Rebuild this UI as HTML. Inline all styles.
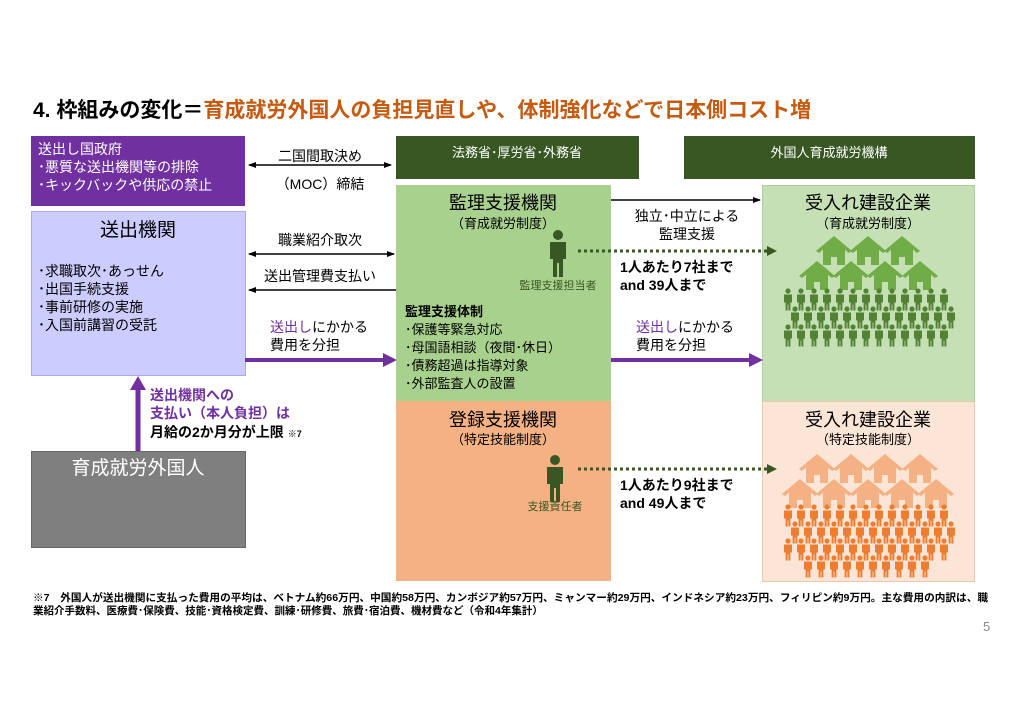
<!DOCTYPE html>
<html><head><meta charset="utf-8"><style>
body{margin:0;background:#fff;width:1024px;height:724px;overflow:hidden}
svg{display:block;font-family:"Liberation Sans","Noto Sans CJK JP",sans-serif}
</style></head><body>
<svg id="s" width="1024" height="724" viewBox="0 0 1024 724" xmlns="http://www.w3.org/2000/svg">
<defs>
<marker id="a" markerWidth="8" markerHeight="8" refX="7" refY="4" orient="auto-start-reverse" markerUnits="userSpaceOnUse"><path d="M0,1 L8,4 L0,7z" fill="#000"/></marker>
<marker id="ag" markerWidth="10" markerHeight="10" refX="9" refY="5" orient="auto" markerUnits="userSpaceOnUse"><path d="M0,0 L10,5 L0,10z" fill="#385723"/></marker>
<g id="p"><circle cx="0" cy="-7" r="2.6"/><path d="M-4,-3.5 h8 v8 h-1.6 v8 h-2 v-6 h-0.8 v6 h-2 v-8 h-1.6z"/></g>
<g id="pb"><circle cx="0" cy="-15" r="5"/><path d="M-8,-8 h16 v17 h-3 v18 h-4 v-14 h-2 v14 h-4 v-18 h-3z"/></g>
<g id="h"><path d="M-18,-1 L0,-16 L18,-1 L15,1 L0,-11 L-15,1z"/><path d="M-11,-3 L0,-12 L11,-3 V13 H3 V5 H-3 V13 H-11z"/></g>
</defs>
<text x="33" y="117" font-size="21" font-weight="bold" fill="#000">4. 枠組みの変化＝<tspan fill="#c55a11">育成就労外国人の負担見直しや、体制強化などで日本側コスト増</tspan></text>

<rect x="31" y="136" width="214" height="70" fill="#7030a0"/>
<text fill="#fff" font-size="14"><tspan x="38" y="154">送出し国政府</tspan><tspan x="38" y="172">･悪質な送出機関等の排除</tspan><tspan x="38" y="190">･キックバックや供応の禁止</tspan></text>

<rect x="31.5" y="211.5" width="214" height="164" fill="#ccccff" stroke="#aaaaee"/>
<text x="138" y="236" font-size="19" text-anchor="middle">送出機関</text>
<text font-size="14"><tspan x="38" y="276">･求職取次･あっせん</tspan><tspan x="38" y="294">･出国手続支援</tspan><tspan x="38" y="312">･事前研修の実施</tspan><tspan x="38" y="330">･入国前講習の受託</tspan></text>

<rect x="31.5" y="451.5" width="214" height="96" fill="#7f7f7f" stroke="#666"/>
<text x="138" y="474" font-size="19" text-anchor="middle" fill="#fff">育成就労外国人</text>

<line x1="138" y1="451" x2="138" y2="388" stroke="#7030a0" stroke-width="5"/>
<path d="M130,390 L138,376 L146,390z" fill="#7030a0"/>
<text font-size="14" font-weight="bold"><tspan x="150" y="400" fill="#7030a0">送出機関への</tspan><tspan x="150" y="418" fill="#7030a0">支払い（本人負担）は</tspan><tspan x="150" y="437">月給の2か月分が上限 <tspan font-size="9">※7</tspan></tspan></text>

<text x="320" y="161" font-size="14" text-anchor="middle">二国間取決め</text>
<line x1="249" y1="165" x2="391" y2="165" stroke="#000" stroke-width="1.5" marker-start="url(#a)" marker-end="url(#a)"/>
<text x="320" y="189" font-size="14" text-anchor="middle">（MOC）締結</text>
<text x="320" y="245" font-size="14" text-anchor="middle">職業紹介取次</text>
<line x1="249" y1="254" x2="394" y2="254" stroke="#000" stroke-width="1.5" marker-start="url(#a)" marker-end="url(#a)"/>
<text x="320" y="281" font-size="14" text-anchor="middle">送出管理費支払い</text>
<line x1="249" y1="290" x2="396" y2="290" stroke="#000" stroke-width="1.5" marker-start="url(#a)"/>
<text font-size="14"><tspan x="270" y="332"><tspan fill="#7030a0">送出し</tspan>にかかる</tspan><tspan x="270" y="350">費用を分担</tspan></text>
<line x1="245" y1="360" x2="384" y2="360" stroke="#7030a0" stroke-width="4"/>
<path d="M383,353 L397,360 L383,367z" fill="#7030a0"/>

<rect x="396" y="136" width="243" height="43" fill="#385723"/>
<text x="517" y="157" font-size="13" text-anchor="middle" fill="#fff">法務省･厚労省･外務省</text>
<rect x="684" y="136" width="291" height="43" fill="#385723"/>
<text x="829" y="157" font-size="13" text-anchor="middle" fill="#fff">外国人育成就労機構</text>

<rect x="396" y="185" width="215" height="216" fill="#a9d18e"/>
<text x="503" y="209" font-size="18" text-anchor="middle">監理支援機関</text>
<text x="503" y="228" font-size="13" text-anchor="middle">（育成就労制度）</text>
<use href="#pb" x="558" y="250" fill="#385723"/>
<text x="558" y="289" font-size="11" text-anchor="middle" fill="#385723">監理支援担当者</text>
<text font-size="13"><tspan x="405" y="316" font-weight="bold">監理支援体制</tspan><tspan x="405" y="334">･保護等緊急対応</tspan><tspan x="405" y="352">･母国語相談（夜間･休日）</tspan><tspan x="405" y="370">･債務超過は指導対象</tspan><tspan x="405" y="388">･外部監査人の設置</tspan></text>

<rect x="396" y="401" width="215" height="180" fill="#f4b183"/>
<text x="503" y="426" font-size="18" text-anchor="middle">登録支援機関</text>
<text x="503" y="444" font-size="13" text-anchor="middle">（特定技能制度）</text>
<use href="#pb" x="555" y="475" fill="#385723"/>
<text x="555" y="510" font-size="11" text-anchor="middle" fill="#385723">支援責任者</text>

<rect x="762.5" y="185.5" width="212" height="216" fill="#c5e0b4" stroke="#b0cc9e"/>
<text x="868" y="209" font-size="18" text-anchor="middle">受入れ建設企業</text>
<text x="868" y="228" font-size="13" text-anchor="middle">（育成就労制度）</text>
<rect x="762.5" y="401.5" width="212" height="180" fill="#fbe5d6" stroke="#f0c8a8"/>
<text x="868" y="426" font-size="18" text-anchor="middle">受入れ建設企業</text>
<text x="868" y="444" font-size="13" text-anchor="middle">（特定技能制度）</text>
<g id="icons"></g>

<line x1="611" y1="200" x2="760" y2="200" stroke="#000" stroke-width="1.5" marker-end="url(#a)"/>
<text x="687" y="221" font-size="14" text-anchor="middle">独立･中立による</text>
<text x="687" y="239" font-size="14" text-anchor="middle">監理支援</text>
<line x1="578" y1="251" x2="776" y2="251" stroke="#385723" stroke-width="3" stroke-dasharray="3,3" marker-end="url(#ag)"/>
<text font-size="14" font-weight="bold"><tspan x="620" y="272">1人あたり7社まで</tspan><tspan x="620" y="290">and 39人まで</tspan></text>
<text font-size="14"><tspan x="636" y="332"><tspan fill="#7030a0">送出し</tspan>にかかる</tspan><tspan x="636" y="350">費用を分担</tspan></text>
<line x1="611" y1="360" x2="750" y2="360" stroke="#7030a0" stroke-width="4"/>
<path d="M749,353 L763,360 L749,367z" fill="#7030a0"/>
<line x1="578" y1="469" x2="776" y2="469" stroke="#385723" stroke-width="3" stroke-dasharray="3,3" marker-end="url(#ag)"/>
<text font-size="14" font-weight="bold"><tspan x="620" y="490">1人あたり9社まで</tspan><tspan x="620" y="508">and 49人まで</tspan></text>

<text font-size="10.5" font-weight="bold"><tspan x="33" y="601" textLength="955" lengthAdjust="spacingAndGlyphs">※7　外国人が送出機関に支払った費用の平均は、ベトナム約66万円、中国約58万円、カンボジア約57万円、ミャンマー約29万円、インドネシア約23万円、フィリピン約9万円。主な費用の内訳は、職</tspan></text>
<text font-size="10.5" font-weight="bold"><tspan x="33" y="614">業紹介手数料、医療費･保険費、技能･資格検定費、訓練･研修費、旅費･宿泊費、機材費など（令和4年集計）</tspan></text>
<text x="983" y="631" font-size="13" fill="#888">5</text>
</svg>
<script>
var g=document.getElementById('icons'),o='';
function u(id,x,y,f){o+='<use href="#'+id+'" x="'+x+'" y="'+y+'" fill="'+f+'"/>';}
var G1='#70ad47',G2='#548235';
[834,868,902].forEach(function(x){u('h',x,252,G1)});
[817,851,885,920].forEach(function(x){u('h',x,277,G1)});
for(var r=0;r<3;r++)for(var i=0;i<13;i++)u('p',788+i*13+(r==1?7:0),298+r*18,G2);
var O1='#f4b183',O2='#ed7d31';
[817,851,885,920].forEach(function(x){u('h',x,470,O1)});
[800,834,868,902,936].forEach(function(x){u('h',x,495,O1)});
for(var r=0;r<4;r++){var n=r==3?10:13;for(var i=0;i<n;i++)u('p',788+i*13+(r%2?7:0)+(r==3?13:0),514+r*17,O2);}
g.innerHTML=o;
</script>
</body></html>
